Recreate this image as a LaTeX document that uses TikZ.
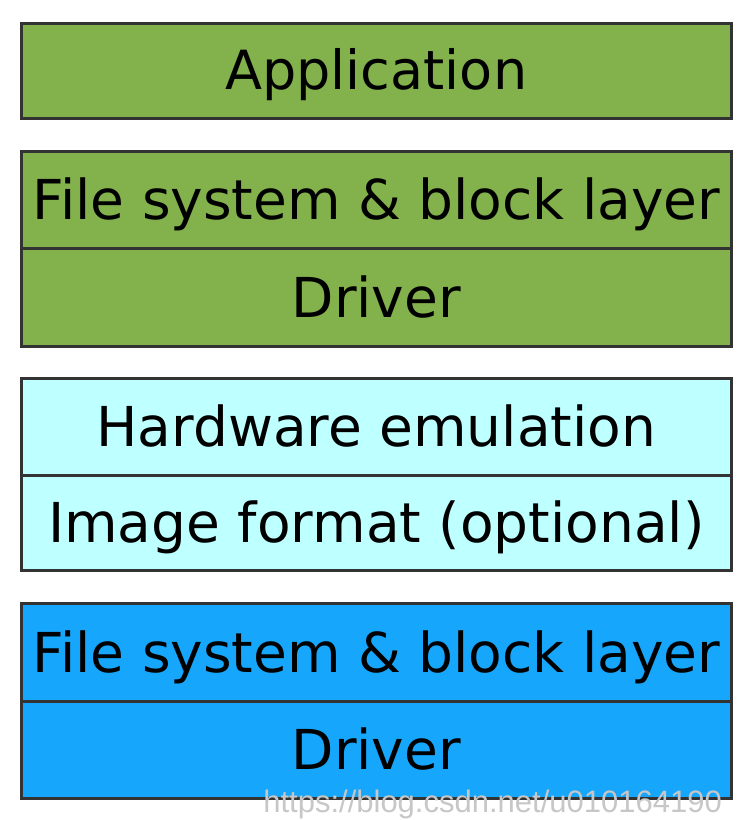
\documentclass[tikz,border=0pt]{standalone}
\usepackage{fontspec}
\setmainfont{DejaVu Sans}
\newfontfamily\wmfont{Liberation Sans}
\definecolor{lgreen}{HTML}{83B14C}
\definecolor{lcyan}{HTML}{BEFFFF}
\definecolor{lblue}{HTML}{16A6FC}
\definecolor{edge}{HTML}{333333}
\begin{document}
\begin{tikzpicture}[x=1pt,y=-1pt,
  layer/.style={draw=edge,line width=2.6pt,minimum width=710pt,minimum height=97pt,inner sep=0pt,text height=40pt,text depth=0pt,font=\fontsize{55}{60}\selectfont,text=black,anchor=north west},
  gl/.style={layer,fill=lgreen},
  cl/.style={layer,fill=lcyan},
  bl/.style={layer,fill=lblue}]
\useasboundingbox (0,0) rectangle (752,820);
\fill[white] (0,0) rectangle (752,820);
\node[gl,minimum height=95pt,font=\fontsize{54}{58}\selectfont,text height=38pt] (app) at (20,22) {Application};
\node[gl] (fs1) at (20,150) {File system \& block layer};
\node[gl,minimum height=98pt] (drv1) at (20,247) {Driver};
\node[cl] (hw) at (20,377) {Hardware emulation};
\node[cl,minimum height=95pt] (img) at (20,474) {Image format (optional)};
\node[bl,minimum height=98pt] (fs2) at (20,602) {File system \& block layer};
\node[bl,minimum height=97pt] (drv2) at (20,700) {Driver};
\node[anchor=base east,text=black!22,font=\wmfont\fontsize{31}{34}\selectfont,inner sep=0pt] (wm) at (722,812) {https://blog.csdn.net/u010164190};
\end{tikzpicture}
\end{document}
